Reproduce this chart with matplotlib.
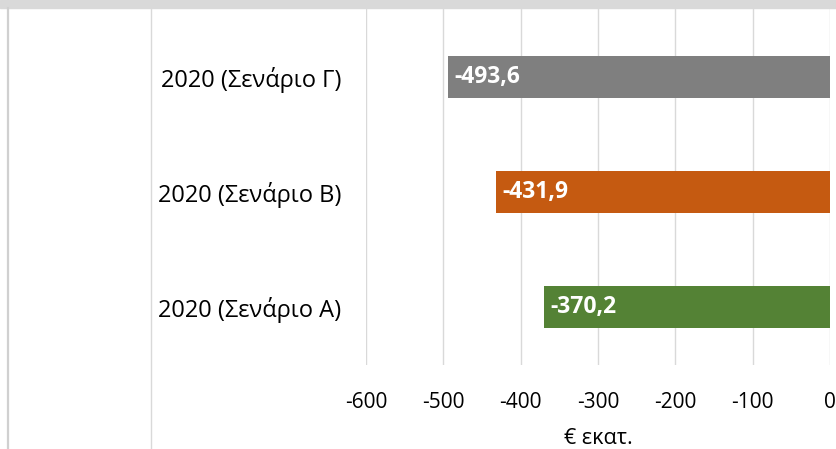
import matplotlib.pyplot as plt
from matplotlib.lines import Line2D
from matplotlib.patches import Rectangle

plt.rcParams['font.family'] = ['Open Sans', 'DejaVu Sans']

categories = ["2020 (Σενάριο Α)", "2020 (Σενάριο Β)", "2020 (Σενάριο Γ)"]
values = [-370.2, -431.9, -493.6]
colors = ["#548235", "#c55a11", "#7f7f7f"]
xticks = [-600, -500, -400, -300, -200, -100, 0]
xlabel = "€ εκατ."

W, H = 836, 449
fig = plt.figure(figsize=(W / 100, H / 100), dpi=100)

# plot area in pixel coords
left, right, top, bottom = 366, 830, 8, 364.5
ax = fig.add_axes([left / W, 1 - bottom / H, (right - left) / W, (bottom - top) / H])

y = range(len(categories))
ax.barh(y, values, height=0.365, color=colors, zorder=2)
ax.set_xlim(-600, 0)
ax.set_ylim(-0.5, 2.6)
ax.set_xticks(xticks)
ax.set_xticklabels([str(t) for t in xticks], fontsize=15)
ax.tick_params(axis='x', length=0, pad=19.5)
ax.set_yticks(list(y))
ax.set_yticklabels(categories, fontsize=17)
ax.tick_params(axis='y', length=0, pad=18)
ax.grid(axis='x', color="#d9d9d9", linewidth=1, zorder=0)
ax.set_axisbelow(True)
for s in ax.spines.values():
    s.set_visible(False)
ax.set_xlabel(xlabel, fontsize=15.5, labelpad=11)

for yi, v in zip(y, values):
    ax.text(v + 8, yi, f"{v:.1f}".replace(".", ","), color="white",
            fontsize=16.5, fontweight="bold", va="center", ha="left", zorder=3)

# top band and frame lines of the cropped screenshot
fig.patches.append(Rectangle((0, 1 - 8 / H), 1, 8 / H, transform=fig.transFigure,
                             color="#d9d9d9", zorder=0))
fig.lines.append(Line2D([8 / W, 8 / W], [0, 1 - 8 / H], transform=fig.transFigure,
                        color="#d0d0d0", linewidth=1.6))
fig.lines.append(Line2D([151 / W, 151 / W], [0, 1 - 8 / H], transform=fig.transFigure,
                        color="#d9d9d9", linewidth=1))

fig.savefig("out.png", dpi=100)
